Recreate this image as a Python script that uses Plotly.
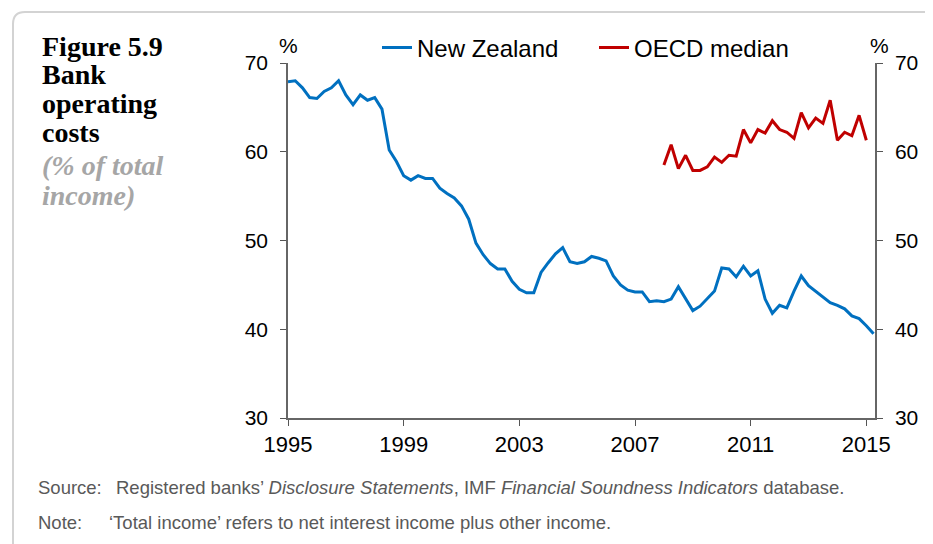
import plotly.graph_objects as go

# quarterly series, first quarter of each series given by the start year
nz_start = 1995
nz_values = [
    67.9, 68.0, 67.2, 66.1, 66.0, 66.8, 67.2, 68.0, 66.4, 65.3, 66.4, 65.8,
    66.1, 64.8, 60.2, 58.9, 57.3, 56.8, 57.3, 57.0, 57.0, 55.9, 55.3, 54.8,
    53.9, 52.4, 49.7, 48.4, 47.4, 46.8, 46.8, 45.4, 44.5, 44.1, 44.1, 46.4,
    47.5, 48.5, 49.2, 47.6, 47.4, 47.6, 48.2, 48.0, 47.7, 46.0, 45.0, 44.4,
    44.2, 44.2, 43.1, 43.2, 43.1, 43.4, 44.8, 43.4, 42.1, 42.6, 43.5, 44.3,
    46.9, 46.8, 45.9, 47.1, 46.0, 46.6, 43.4, 41.8, 42.7, 42.4, 44.3, 46.0,
    44.9, 44.3, 43.7, 43.0, 42.7, 42.3, 41.5, 41.2, 40.4, 39.5,
]
oecd_start = 2008
oecd_values = [
    58.5, 60.8, 58.1, 59.6, 57.9, 57.9, 58.3, 59.4, 58.8, 59.6, 59.5, 62.5,
    61.0, 62.5, 62.1, 63.5, 62.5, 62.2, 61.5, 64.4, 62.7, 63.8, 63.2, 65.8,
    61.3, 62.2, 61.8, 64.1, 61.3,
]
year_ticks = [1995, 1999, 2003, 2007, 2011, 2015]

nz_x = [nz_start + i / 4 for i in range(len(nz_values))]
oecd_x = [oecd_start + i / 4 for i in range(len(oecd_values))]

# the page puts the figure 8px in from the top left corner
OFF = 8
W, H = 933 - OFF, 544 - OFF
# plot area in page pixels
L, R, T, B = 288, 875, 63, 418


def px(x):
    return (x - L) / (R - L)


def py(y):
    return (B - y) / (B - T)


SANS = "Liberation Sans, Arial, sans-serif"
SERIF = "Liberation Serif, Times New Roman, serif"

fig = go.Figure()
fig.add_trace(go.Scatter(x=nz_x, y=nz_values, mode="lines", name="New Zealand",
                         line=dict(color="#0070C0", width=3)))
fig.add_trace(go.Scatter(x=oecd_x, y=oecd_values, mode="lines", name="OECD median",
                         line=dict(color="#C00000", width=3), yaxis="y2"))

axis_common = dict(range=[30, 70], dtick=10, ticks="outside", ticklen=6,
                   tickcolor="#555", showline=True, linecolor="#666", linewidth=1.5,
                   showgrid=False, zeroline=False, ticklabelstandoff=8,
                   tickfont=dict(family=SANS, size=21, color="#000"))

annotations = [
    dict(x=px(288), y=py(45), text="%"),
    dict(x=px(879), y=py(45), text="%"),
]
for a in annotations:
    a.update(xref="paper", yref="paper", showarrow=False, xanchor="center", yanchor="middle",
             font=dict(family=SANS, size=21, color="#000"))

title_lines = [("Figure 5.9", 46, "#000", False), ("Bank", 75, "#000", False),
               ("operating", 104, "#000", False), ("costs", 133, "#000", False),
               ("(% of total", 165, "#A6A6A6", True), ("income)", 196, "#A6A6A6", True)]
for text, yy, col, it in title_lines:
    t = "<b><i>%s</i></b>" % text if it else "<b>%s</b>" % text
    annotations.append(dict(x=px(40), y=py(yy), xref="paper", yref="paper", text=t,
                            showarrow=False, xanchor="left", yanchor="middle",
                            font=dict(family=SERIF, size=28, color=col)))

notes = [
    (36, 487, "Source:"),
    (114, 487, "Registered banks’ <i>Disclosure Statements</i>, IMF <i>Financial Soundness Indicators</i> database."),
    (36, 522, "Note:"),
    (107, 522, "‘Total income’ refers to net interest income plus other income."),
]
for xx, yy, text in notes:
    annotations.append(dict(x=px(xx), y=py(yy), xref="paper", yref="paper", text=text,
                            showarrow=False, xanchor="left", yanchor="middle",
                            font=dict(family=SANS, size=18.5, color="#595959")))

frame = dict(type="path", xref="paper", yref="paper",
             path="M %f,%f L %f,%f Q %f,%f %f,%f L %f,%f" % (
                 px(13), py(560), px(13), py(24), px(13), py(12), px(25), py(12), px(945), py(12)),
             line=dict(color="#D3D3D3", width=2))

fig.update_layout(
    width=W, height=H,
    margin=dict(l=L - OFF, r=W - (R - OFF), t=T - OFF, b=H - (B - OFF)),
    paper_bgcolor="white", plot_bgcolor="white",
    xaxis=dict(range=[1995, 2015.3], tickvals=year_ticks, ticks="outside", ticklen=6,
               tickcolor="#555", showline=True, linecolor="#666", linewidth=1.5,
               showgrid=False, zeroline=False,
               tickfont=dict(family=SANS, size=22, color="#000")),
    yaxis=axis_common,
    yaxis2=dict(overlaying="y", side="right", **axis_common),
    legend=dict(orientation="h", x=px(377), xanchor="left", y=py(48), yanchor="middle",
                entrywidth=172, entrywidthmode="pixels", bgcolor="rgba(0,0,0,0)",
                font=dict(family=SANS, size=24, color="#000")),
    annotations=annotations,
    shapes=[frame],
)

fig.write_html("out.html")
